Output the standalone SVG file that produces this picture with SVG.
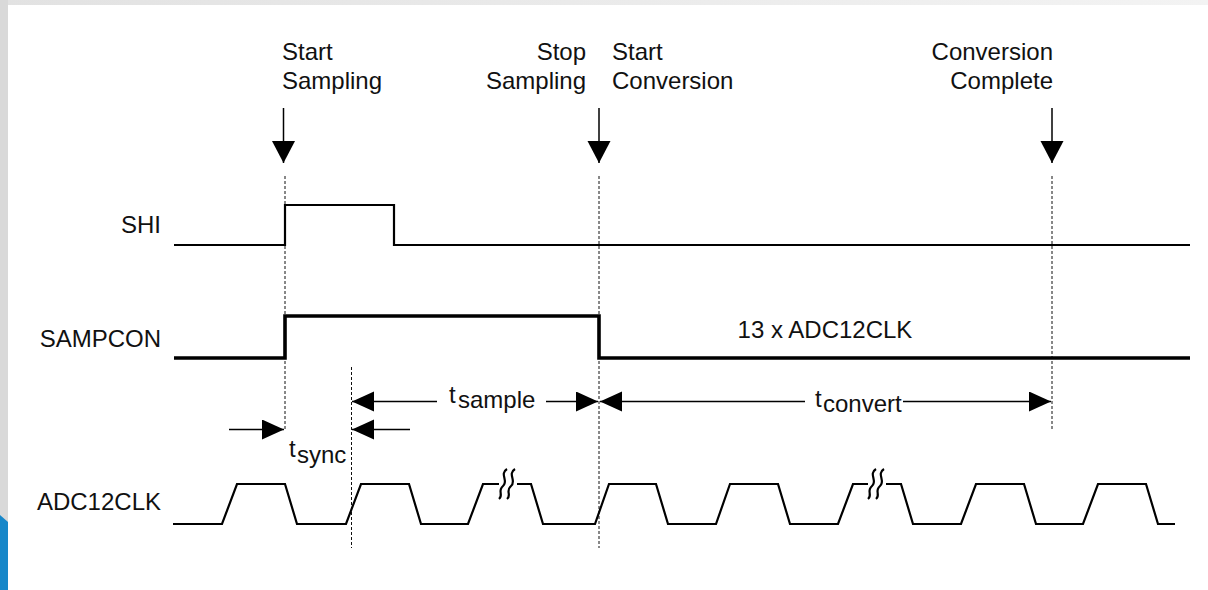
<svg xmlns="http://www.w3.org/2000/svg" width="1208" height="590" viewBox="0 0 1208 590">
<defs>
<linearGradient id="topg" x1="0" y1="0" x2="1" y2="0"><stop offset="0" stop-color="#e2e2e2"/><stop offset="1" stop-color="#f3f3f3"/></linearGradient>
<marker id="down" markerUnits="userSpaceOnUse" markerWidth="24" markerHeight="24" refX="22" refY="11.5" orient="auto"><path d="M0,0 L22,11.5 L0,23 z" fill="#000"/></marker>
<marker id="ah" markerUnits="userSpaceOnUse" markerWidth="24" markerHeight="22" refX="22" refY="10" orient="auto"><path d="M0,0 L22,10 L0,20 z" fill="#000"/></marker>
<style>
text{font-family:"Liberation Sans",Arial,sans-serif;font-size:24px;fill:#111}
.r{text-anchor:end}
.m{text-anchor:middle}
.sig{fill:none;stroke:#000;stroke-width:2.2;stroke-linejoin:miter}
.thick{stroke-width:3.6}
.dash{stroke:#111;stroke-width:1;stroke-dasharray:3 2;fill:none}
.arr{stroke:#000;stroke-width:1.5;fill:none}
.dn{marker-end:url(#down)}
.dim{marker-end:url(#ah)}
</style>
</defs>
<rect width="1208" height="590" fill="#fff"/>
<rect x="0" y="0" width="1208" height="5" fill="url(#topg)"/>
<rect x="0" y="0" width="8" height="590" fill="#d9d9d9"/>
<polygon points="0,515 8,522 8,590 0,590" fill="#1787c9"/>

<g id="labels-top">
<text x="282" y="60">Start</text><text x="282" y="89">Sampling</text>
<text class="r" x="586" y="60">Stop</text><text class="r" x="586" y="89">Sampling</text>
<text x="612" y="60">Start</text><text x="612" y="89">Conversion</text>
<text class="r" x="1053" y="60">Conversion</text><text class="r" x="1053" y="89">Complete</text>
</g>

<g id="event-arrows">
<line class="arr dn" x1="283.5" y1="108" x2="283.5" y2="163"/>
<line class="arr dn" x1="599" y1="108" x2="599" y2="163"/>
<line class="arr dn" x1="1052" y1="108" x2="1052" y2="163"/>
</g>

<g id="guides">
<line class="dash" x1="285" y1="176" x2="285" y2="430"/>
<line class="dash" x1="599" y1="176" x2="599" y2="548"/>
<line class="dash" x1="1052" y1="176" x2="1052" y2="430"/>
<line class="dash" x1="351.5" y1="367" x2="351.5" y2="548"/>
</g>

<g id="SHI">
<text class="r" x="161" y="233">SHI</text>
<polyline class="sig" points="174,245 285,245 285,205 394,205 394,245 1190,245"/>
</g>

<g id="SAMPCON">
<text class="r" x="161" y="347">SAMPCON</text>
<polyline class="sig thick" points="174,358 285,358 285,316 599,316 599,358 1190,358"/>
<text class="m" x="825" y="338">13 x ADC12CLK</text>
</g>

<g id="ADC12CLK">
<text class="r" x="161" y="510">ADC12CLK</text>
<polyline class="sig" points="173,524 222,524 237,484 285,484 297,524 346,524 361,484 409,484 421,524 468,524 483,484 499,484"/>
<polyline class="sig" points="517,484 531,484 543,524 595,524 609,484 656,484 668,524 716,524 730,484 778,484 790,524 838,524 853,484 868,484"/>
<polyline class="sig" points="886,484 901,484 913,524 961,524 976,484 1024,484 1036,524 1083,524 1098,484 1146,484 1158,524 1175,524"/>
<path class="sig" d="M507,469 C499,474 509,481 503,486 C497,491 504,495 499,499"/>
<path class="sig" d="M515,469 C507,474 517,481 511,486 C505,491 512,495 507,499"/>
<path class="sig" d="M876,469 C868,474 878,481 872,486 C866,491 873,495 868,499"/>
<path class="sig" d="M884,469 C876,474 886,481 880,486 C874,491 881,495 876,499"/>
</g>

<g id="connectors">
<line class="arr dim" x1="437" y1="401.5" x2="352" y2="401.5"/>
<line class="arr dim" x1="546" y1="401.5" x2="598" y2="401.5"/>
<line class="arr dim" x1="805" y1="401.5" x2="600" y2="401.5"/>
<line class="arr dim" x1="903" y1="401.5" x2="1051" y2="401.5"/>
<line class="arr dim" x1="229" y1="429.5" x2="284" y2="429.5"/>
<line class="arr dim" x1="410" y1="429.5" x2="352" y2="429.5"/>
</g>

<g id="dim-labels">
<text x="449" y="403">t</text><text x="458" y="408">sample</text>
<text x="815" y="407">t</text><text x="823" y="412">convert</text>
<text x="289" y="457">t</text><text x="297" y="463">sync</text>
</g>
</svg>
